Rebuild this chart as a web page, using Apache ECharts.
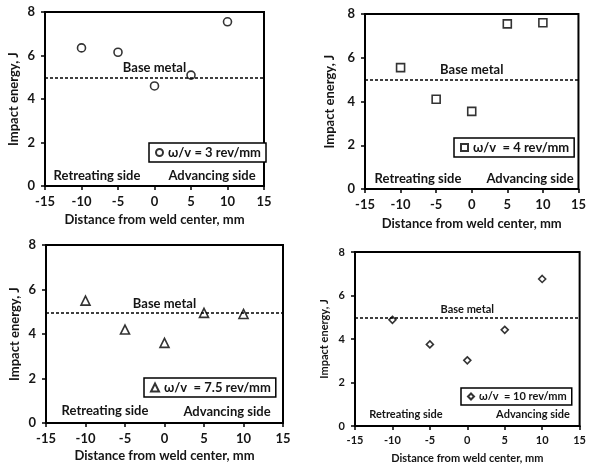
<!DOCTYPE html>
<html><head><meta charset="utf-8">
<script src="https://cdn.jsdelivr.net/npm/echarts@6/dist/echarts.min.js"></script>
<style>html,body{margin:0;padding:0;background:#fff}#c{width:589px;height:465px}</style>
</head><body><div id="c"></div>
<script>
const distances = [-10, -5, 0, 5, 10];
const energy3 = [6.35, 6.15, 4.6, 5.1, 7.55];
const energy4 = [5.55, 4.1, 3.55, 7.55, 7.6];
const energy75 = [5.5, 4.2, 3.6, 4.95, 4.9];
const energy10 = [4.88, 3.75, 3.02, 4.42, 6.76];
const baseMetal = [5, 5, 4.95, 4.97];
const seriesNames = ['ω/v = 3 rev/mm', 'ω/v  = 4 rev/mm', 'ω/v  = 7.5 rev/mm', 'ω/v  = 10 rev/mm'];
const symbols = ['circle', 'rect', 'triangle', 'diamond'];
const xTicks = [-15, 15, 5];
const yTicks = [0, 8, 2];

const FONT = 'Lato';
const TXT = '#151515';
const panels = [
  {grid:{left:45, top:12, width:219, height:174}, vals:energy3, fs:13, xGap:27, yGap:25, sym:8,
   legend:{left:149, top:143}, ret:[97,176], adv:[212,176]},
  {grid:{left:365, top:14, width:219, height:175}, vals:energy4, fs:13, xGap:28, yGap:29, sym:8,
   legend:{left:454, top:138}, ret:[418,179], adv:[530,179]},
  {grid:{left:46, top:245, width:237, height:178}, vals:energy75, fs:13, xGap:26, yGap:25, sym:9,
   legend:{left:144, top:378}, ret:[105,411], adv:[227,412]},
  {grid:{left:355, top:252, width:227, height:176}, vals:energy10, fs:11, xGap:27, yGap:25, sym:7,
   legend:{left:461, top:388}, ret:[406,414], adv:[533,414]}
];

const grids = [], xAxes = [], yAxes = [], series = [], legends = [], graphics = [];
panels.forEach((p, i) => {
  grids.push(Object.assign({show:true, borderColor:'#000', borderWidth:2, backgroundColor:'transparent'}, p.grid));
  const common = {
    gridIndex:i, type:'value', nameLocation:'middle',
    nameTextStyle:{fontFamily:FONT, fontSize:p.fs, color:TXT, fontWeight:'bold'},
    axisLine:{show:true, onZero:false, lineStyle:{color:'#000', width:2}},
    axisTick:{show:true, inside:false, length:4, lineStyle:{color:'#000', width:1.5}},
    axisLabel:{fontFamily:FONT, fontSize:p.fs, color:TXT, fontWeight:'bold'},
    splitLine:{show:false}
  };
  xAxes.push(Object.assign({}, common, {min:xTicks[0], max:xTicks[1], interval:xTicks[2],
    name:'Distance from weld center, mm', nameGap:p.xGap,
    axisLabel:Object.assign({}, common.axisLabel, {margin:9})}));
  yAxes.push(Object.assign({}, common, {min:yTicks[0], max:yTicks[1], interval:yTicks[2],
    name:'Impact energy, J', nameGap:p.yGap,
    axisLabel:Object.assign({}, common.axisLabel, {margin:10})}));
  series.push({
    type:'scatter', name:seriesNames[i], xAxisIndex:i, yAxisIndex:i,
    symbol:symbols[i], symbolSize:p.sym,
    itemStyle:{color:'#fff', borderColor:'#000', borderWidth:1.6},
    data: distances.map((d, k) => [d, p.vals[k]]),
    markLine:{
      silent:true, symbol:'none', animation:false,
      lineStyle:{color:'#000', type:[3,2], width:1.5},
      label:{show:true, position:'insideMiddleTop', formatter:'Base metal', distance:3,
        fontFamily:FONT, fontSize:p.fs, color:TXT, fontWeight:'bold'},
      data:[{yAxis: baseMetal[i]}]
    }
  });
  legends.push({
    data:[seriesNames[i]], left:p.legend.left, top:p.legend.top,
    orient:'horizontal', itemWidth:p.sym - 1, itemHeight:p.sym - 1, itemGap:4,
    padding:[3,5,3,6], borderColor:'#000', borderWidth:1.5, backgroundColor:'#fff',
    selectedMode:false,
    textStyle:{fontFamily:FONT, fontSize:p.fs, color:TXT, fontWeight:'bold'}
  });
  [['Retreating side', p.ret], ['Advancing side', p.adv]].forEach(([t, pos]) => {
    graphics.push({type:'text', x:pos[0], y:pos[1], z:10,
      style:{text:t, fontFamily:FONT, fontSize:p.fs, fontWeight:'bold', fill:TXT,
        textAlign:'center', textVerticalAlign:'middle'}});
  });
});

const chart = echarts.init(document.getElementById('c'), null, {renderer:'canvas'});
chart.setOption({
  animation:false,
  backgroundColor:'#fff',
  grid:grids, xAxis:xAxes, yAxis:yAxes, series:series, legend:legends, graphic:graphics
});
</script></body></html>
